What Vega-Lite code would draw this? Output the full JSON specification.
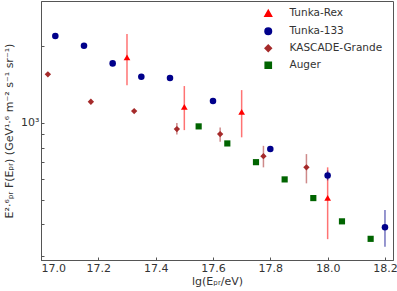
{
  "$schema": "https://vega.github.io/schema/vega-lite/v6.json",
  "width": 352,
  "height": 259,
  "autosize": "none",
  "padding": {"left": 41, "top": 1, "right": 4, "bottom": 31},
  "background": "white",
  "config": {
    "view": {"stroke": "#555", "strokeWidth": 1},
    "font": "DejaVu Sans",
    "axis": {
      "grid": false,
      "domainColor": "#555",
      "tickColor": "#555",
      "labelColor": "#333",
      "titleColor": "#333",
      "labelFont": "DejaVu Sans",
      "titleFont": "DejaVu Sans",
      "labelFontSize": 11,
      "titleFontSize": 11,
      "titleFontWeight": "normal",
      "tickSize": -3
    },
    "legend": {
      "labelFont": "DejaVu Sans",
      "labelFontSize": 10.5,
      "labelColor": "#333"
    }
  },
  "data": {
    "values": [
      {"exp": "Tunka-Rex", "lgE": 17.3, "flux": 1804, "lo": 1402, "hi": 2227},
      {"exp": "Tunka-Rex", "lgE": 17.5, "flux": 1155, "lo": 936, "hi": 1393},
      {"exp": "Tunka-Rex", "lgE": 17.7, "flux": 1104, "lo": 877, "hi": 1343},
      {"exp": "Tunka-Rex", "lgE": 18.0, "flux": 508, "lo": 350, "hi": 669},
      {"exp": "Tunka-133", "lgE": 17.05, "flux": 2188, "lo": null, "hi": null},
      {"exp": "Tunka-133", "lgE": 17.15, "flux": 2003, "lo": null, "hi": null},
      {"exp": "Tunka-133", "lgE": 17.25, "flux": 1709, "lo": null, "hi": null},
      {"exp": "Tunka-133", "lgE": 17.35, "flux": 1514, "lo": null, "hi": null},
      {"exp": "Tunka-133", "lgE": 17.45, "flux": 1497, "lo": null, "hi": null},
      {"exp": "Tunka-133", "lgE": 17.6, "flux": 1216, "lo": null, "hi": null},
      {"exp": "Tunka-133", "lgE": 17.8, "flux": 789, "lo": 775, "hi": 803},
      {"exp": "Tunka-133", "lgE": 18.0, "flux": 622, "lo": 595, "hi": 650},
      {"exp": "Tunka-133", "lgE": 18.2, "flux": 390, "lo": 327, "hi": 455},
      {"exp": "KASCADE-Grande", "lgE": 17.024, "flux": 1548, "lo": null, "hi": null},
      {"exp": "KASCADE-Grande", "lgE": 17.174, "flux": 1209, "lo": null, "hi": null},
      {"exp": "KASCADE-Grande", "lgE": 17.325, "flux": 1111, "lo": null, "hi": null},
      {"exp": "KASCADE-Grande", "lgE": 17.474, "flux": 945, "lo": 900, "hi": 997},
      {"exp": "KASCADE-Grande", "lgE": 17.625, "flux": 903, "lo": 842, "hi": 959},
      {"exp": "KASCADE-Grande", "lgE": 17.776, "flux": 740, "lo": 669, "hi": 812},
      {"exp": "KASCADE-Grande", "lgE": 17.926, "flux": 669, "lo": 579, "hi": 754},
      {"exp": "Auger", "lgE": 17.55, "flux": 968, "lo": null, "hi": null},
      {"exp": "Auger", "lgE": 17.65, "flux": 830, "lo": null, "hi": null},
      {"exp": "Auger", "lgE": 17.75, "flux": 701, "lo": null, "hi": null},
      {"exp": "Auger", "lgE": 17.85, "flux": 600, "lo": null, "hi": null},
      {"exp": "Auger", "lgE": 17.95, "flux": 507, "lo": null, "hi": null},
      {"exp": "Auger", "lgE": 18.05, "flux": 411, "lo": null, "hi": null},
      {"exp": "Auger", "lgE": 18.15, "flux": 351, "lo": null, "hi": null}
    ]
  },
  "layer": [
    {
      "transform": [{"filter": "datum.lo != null"}],
      "mark": {"type": "rule", "strokeWidth": 1.5, "strokeOpacity": 0.55},
      "encoding": {
        "x": {"field": "lgE", "type": "quantitative"},
        "y": {"field": "lo", "type": "quantitative"},
        "y2": {"field": "hi"},
        "color": {"field": "exp", "type": "nominal",
          "scale": {"domain": ["Tunka-Rex", "Tunka-133", "KASCADE-Grande", "Auger"],
                    "range": ["#ff0000", "#00008b", "#a52a2a", "#006400"]}}
      }
    },
    {
      "mark": {"type": "point", "filled": true, "opacity": 1},
      "encoding": {
        "x": {
          "field": "lgE", "type": "quantitative",
          "scale": {"domain": [17.0, 18.228], "nice": false, "zero": false},
          "axis": {
            "title": "lg(Eₚᵣ/eV)",
            "values": [17.0, 17.1, 17.2, 17.3, 17.4, 17.5, 17.6, 17.7, 17.8, 17.9, 18.0, 18.1, 18.2],
            "labelExpr": "abs(round(datum.value*10)) % 2 == 0 ? format(datum.value, '.1f') : ''",
            "labelPadding": 5,
            "titlePadding": 2
          }
        },
        "y": {
          "field": "flux", "type": "quantitative",
          "scale": {"type": "log", "domain": [290, 3000], "nice": false},
          "axis": {
            "title": "E²·⁶ₚᵣ F(Eₚᵣ) (GeV¹·⁶ m⁻² s⁻¹ sr⁻¹)",
            "values": [300, 400, 500, 600, 700, 800, 900, 1000, 2000],
            "labelExpr": "datum.value == 1000 ? '10³' : ''",
            "labelPadding": 5,
            "titlePadding": 6
          }
        },
        "color": {"field": "exp", "type": "nominal", "title": null,
          "scale": {"domain": ["Tunka-Rex", "Tunka-133", "KASCADE-Grande", "Auger"],
                    "range": ["#ff0000", "#00008b", "#a52a2a", "#006400"]},
          "legend": {"orient": "none", "legendX": 222, "legendY": 7, "rowPadding": 4, "symbolSize": 50, "labelOffset": 16, "padding": 0, "symbolOpacity": 1, "symbolFillOpacity": 1}},
        "shape": {"field": "exp", "type": "nominal", "title": null,
          "scale": {"domain": ["Tunka-Rex", "Tunka-133", "KASCADE-Grande", "Auger"],
                    "range": ["triangle-up", "circle", "diamond", "square"]}},
        "size": {"field": "exp", "type": "nominal", "legend": null,
          "scale": {"domain": ["Tunka-Rex", "Tunka-133", "KASCADE-Grande", "Auger"],
                    "range": [45, 38, 100, 38]}}
      }
    }
  ]
}
